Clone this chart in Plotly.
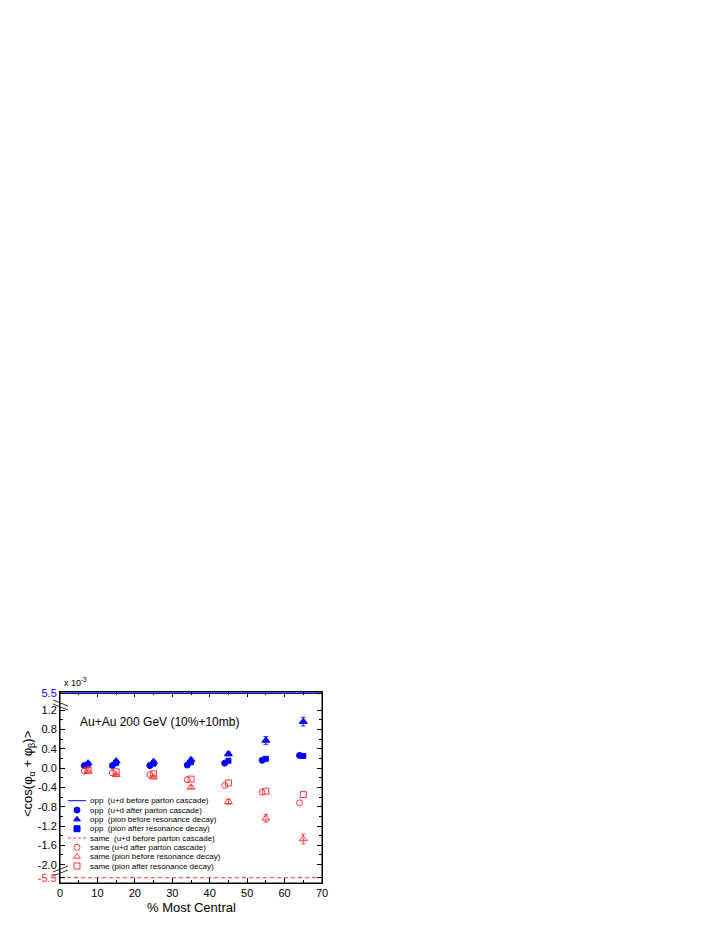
import plotly.graph_objects as go

# centrality (% most central); circles sit slightly left of the others
cent = [7.5, 15, 25, 35, 45, 55, 65]
cent_left = [6.5, 14, 24, 34, 44, 54, 64]

# <cos(phi_a + phi_b)>, units of 1e-3
opp_before_parton = 5.5
opp_after_parton = [0.05, 0.05, 0.05, 0.06, 0.10, 0.16, 0.26]
opp_pion_before = [0.10, 0.14, 0.13, 0.17, 0.29, 0.57, 0.96]
opp_pion_before_err = [0.02, 0.02, 0.02, 0.02, 0.04, 0.08, 0.09]
opp_pion_after = [0.07, 0.10, 0.09, 0.12, 0.15, 0.19, 0.25]

same_before_parton = -5.5
same_after_parton = [-0.06, -0.10, -0.14, -0.24, -0.36, -0.50, -0.72]
same_pion_before = [-0.07, -0.14, -0.19, -0.40, -0.70, -1.04, -1.47]
same_pion_before_err = [0.02, 0.02, 0.03, 0.03, 0.05, 0.08, 0.10]
same_pion_after = [-0.04, -0.08, -0.12, -0.23, -0.31, -0.48, -0.55]

mid_ticks = [-2.0, -1.6, -1.2, -0.8, -0.4, 0.0, 0.4, 0.8, 1.2]
x_ticks = [0, 10, 20, 30, 40, 50, 60, 70]

BLUE = "#0000ff"
RED = "#ff3333"
FONT = "Liberation Sans, Arial, sans-serif"

# page pixels (the page body adds an 8px offset)
OFF = 8
W, H = 723, 935
L, R, T, B = 60, 322, 692, 883
brk_top, brk_bot = 705, 871
y0_px, scale = 768, 48.33      # pixel of y=0 and px per unit (middle part)
top_px, bot_px = 693.3, 877.7  # pixels of the 5.5 / -5.5 labels


def fx(px):
    return (px - L) / (R - L)


def fy(py):
    return (B - py) / (B - T)


fig = go.Figure()

# off-scale lines
fig.add_trace(go.Scatter(x=[0, 70], y=[opp_before_parton] * 2, mode="lines",
                         line=dict(color=BLUE, width=1.2), xaxis="x2", yaxis="y"))
fig.add_trace(go.Scatter(x=[0, 70], y=[same_before_parton] * 2, mode="lines",
                         line=dict(color=RED, width=1, dash="4px,3px"), xaxis="x", yaxis="y3"))

pts = [
    (cent_left, opp_after_parton, None, "circle", BLUE, 6),
    (cent, opp_pion_after, None, "square", BLUE, 5),
    (cent, opp_pion_before, opp_pion_before_err, "triangle-up", BLUE, 7),
    (cent_left, same_after_parton, None, "circle-open", RED, 6),
    (cent, same_pion_after, None, "square-open", RED, 6),
    (cent, same_pion_before, same_pion_before_err, "triangle-up-open", RED, 7),
]
for xs, ys, err, sym, col, sz in pts:
    fig.add_trace(go.Scatter(
        x=xs, y=ys, mode="markers", xaxis="x", yaxis="y2",
        marker=dict(symbol=sym, size=sz, color=col, line=dict(color=col, width=1)),
        error_y=dict(type="data", array=err, visible=err is not None,
                     color=col, thickness=0.8, width=2.5),
    ))

# hand-made legend (compact rows)
legend_labels = [
    "opp  (u+d before parton cascade)",
    "opp  (u+d after parton cascade)",
    "opp  (pion before resonance decay)",
    "opp  (pion after resonance decay)",
    "same  (u+d before parton cascade)",
    "same (u+d after parton cascade)",
    "same (pion before resonance decay)",
    "same (pion after resonance decay)",
]
legend_style = [
    ("line", "solid", BLUE), ("circle", None, BLUE), ("triangle-up", None, BLUE),
    ("square", None, BLUE), ("line", "3px,2px", RED), ("circle-open", None, RED),
    ("triangle-up-open", None, RED), ("square-open", None, RED),
]
row0, row_gap = 800.7, 9.33
annotations = []
for i, (lab, (sym, dash, col)) in enumerate(zip(legend_labels, legend_style)):
    ry = row0 + i * row_gap
    if sym == "line":
        fig.add_trace(go.Scatter(x=[68, 86], y=[ry, ry], mode="lines", xaxis="x3", yaxis="y4",
                                 line=dict(color=col, width=1, dash=dash)))
    else:
        fig.add_trace(go.Scatter(x=[77], y=[ry], mode="markers", xaxis="x3", yaxis="y4",
                                 marker=dict(symbol=sym, size=6, color=col,
                                             line=dict(color=col, width=1))))
    annotations.append(dict(x=88, y=ry, xref="x3", yref="y4", text=lab, showarrow=False,
                            xanchor="left", yanchor="middle",
                            font=dict(size=8, family=FONT, color="black")))

annotations += [
    dict(x=fx(62), y=fy(682), xref="paper", yref="paper", text="x 10<sup>-3</sup>",
         showarrow=False, xanchor="left", yanchor="middle", font=dict(size=9, family=FONT)),
    dict(x=fx(78), y=fy(722), xref="paper", yref="paper", text="Au+Au 200 GeV (10%+10mb)",
         showarrow=False, xanchor="left", yanchor="middle", font=dict(size=12, family=FONT)),
    dict(x=fx(28), y=fy(774), xref="paper", yref="paper",
         text="&lt;cos(φ<sub>α</sub> + φ<sub>β</sub>)&gt;", textangle=-90,
         showarrow=False, xanchor="center", yanchor="middle", font=dict(size=13, family=FONT)),
    dict(x=fx(191), y=fy(907), xref="paper", yref="paper", text="% Most Central",
         showarrow=False, xanchor="center", yanchor="middle", font=dict(size=13, family=FONT)),
]

# frame and break marks on the left axis
shapes = [dict(type="rect", xref="paper", yref="paper", x0=0, y0=0, x1=1, y1=1,
               line=dict(color="black", width=1))]
for pyb, slope in [(brk_top, 1), (brk_bot, -1)]:
    for off in (-2, 2):
        shapes.append(dict(type="line", xref="paper", yref="paper",
                           x0=fx(53), y0=fy(pyb + off - 3 * slope),
                           x1=fx(68), y1=fy(pyb + off + 3 * slope),
                           line=dict(color="black", width=0.8)))

tickfont = dict(size=11, family=FONT, color="black")
xcommon = dict(range=[0, 70], tickvals=x_ticks, ticks="inside", ticklen=5, showline=True,
               linecolor="black", linewidth=1, showgrid=False, zeroline=False,
               minor=dict(dtick=5, ticks="inside", ticklen=3, tickcolor="black"),
               tickcolor="black")
ycommon = dict(ticks="inside", ticklen=5, showline=True, linecolor="black", linewidth=1,
               mirror="ticks", showgrid=False, zeroline=False, tickcolor="black")

fig.update_layout(
    width=W, height=H,
    margin=dict(l=L - OFF, r=W - R + OFF, t=T - OFF, b=H - B + OFF),
    paper_bgcolor="white", plot_bgcolor="rgba(0,0,0,0)",
    showlegend=False,
    font=dict(family=FONT, size=11, color="black"),
    xaxis=dict(**xcommon, anchor="y3", side="bottom", tickfont=tickfont),
    xaxis2=dict(**xcommon, anchor="y", side="top", matches="x", showticklabels=False),
    xaxis3=dict(domain=[0, 1], range=[L, R], visible=False, anchor="y4"),
    yaxis=dict(**ycommon, anchor="x2", domain=[fy(brk_top), 1],
               range=[5.5 - (brk_top - top_px) / scale, 5.5 + (top_px - T) / scale],
               tickvals=[opp_before_parton], ticktext=["5.5"],
               tickfont=dict(size=11, family=FONT, color=BLUE)),
    yaxis2=dict(**ycommon, anchor="x", domain=[fy(brk_bot), fy(brk_top)],
                range=[(y0_px - brk_bot) / scale, (y0_px - brk_top) / scale],
                tickvals=mid_ticks, ticktext=[f"{v:.1f}" for v in mid_ticks],
                minor=dict(dtick=0.2, tick0=0, ticks="inside", ticklen=3, tickcolor="black"),
                tickfont=tickfont),
    yaxis3=dict(**ycommon, anchor="x", domain=[0, fy(brk_bot)],
                range=[-5.5 - (B - bot_px) / scale, -5.5 + (bot_px - brk_bot) / scale],
                tickvals=[same_before_parton], ticktext=["-5.5"],
                tickfont=dict(size=11, family=FONT, color=RED)),
    yaxis4=dict(domain=[0, 1], range=[B, T], visible=False, anchor="x3"),
    annotations=annotations,
    shapes=shapes,
)

fig.write_html("out.html")
